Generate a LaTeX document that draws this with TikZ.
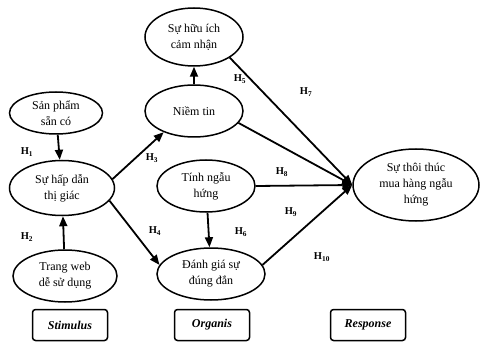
\documentclass[tikz,border=0pt]{standalone}
\usepackage{fontspec}
\setmainfont{Liberation Serif}
\usetikzlibrary{shapes.geometric, arrows.meta, positioning}
\tikzset{
    construct/.style={
        ellipse, draw=black, line width=1.5pt,
        inner sep=0pt, align=center,
        font=\fontsize{12}{16}\selectfont
    },
    stage/.style={
        rectangle, rounded corners=3pt, draw=black, line width=1.5pt,
        minimum width=75pt, minimum height=31pt,
        font=\fontsize{12}{13}\selectfont\bfseries\itshape
    },
    path/.style={draw=black, line width=1.8pt, -{Triangle[length=10pt,width=8pt]}},
    hyp/.style={font=\fontsize{10.5}{11}\selectfont\bfseries, inner sep=1pt}
}

\begin{document}
\begin{tikzpicture}[x=1pt, y=-1pt]
\useasboundingbox (0,0) rectangle (482,342);

% Stimulus
\node[construct, minimum width=93pt, minimum height=42pt] (sp) at (56,113) {Sản phẩm\\sẵn có};
\node[construct, minimum width=105pt, minimum height=55pt] (hd) at (62,188) {Sự hấp dẫn\\thị giác};
\node[construct, minimum width=104pt, minimum height=52pt] (tw) at (65,276) {Trang web\\dễ sử dụng};

% Organis
\node[construct, minimum width=98pt, minimum height=58pt] (hi) at (194,37) {Sự hữu ích\\cảm nhận};
\node[construct, minimum width=98pt, minimum height=52pt] (nt) at (194,111) {Niềm tin};
\node[construct, minimum width=98pt, minimum height=52pt] (tn) at (206,186) {Tính ngẫu\\hứng};
\node[construct, minimum width=108pt, minimum height=52pt] (dg) at (211,274) {Đánh giá sự\\đúng đắn};

% Response
\node[construct, minimum width=126pt, minimum height=72pt] (tt) at (416,185) {Sự thôi thúc\\mua hàng ngẫu\\hứng};

% Stage boxes
\node[stage] (stim) at (70,325) {Stimulus};
\node[stage] (org) at (212,325) {Organis};
\node[stage] (resp) at (368,325) {Response};

% Paths
\draw[path] (sp) -- (hd);
\draw[path] (tw) -- (hd);
\draw[path] (hd.10) -- (nt.215);
\draw[path] (hd.-15) -- (dg.170);
\draw[path] (nt) -- (hi);
\draw[path] (tn) -- (dg);
\draw[path] (hi.-30) -- (tt.west);
\draw[path] (nt.-15) -- (tt.west);
\draw[path] (tn.east) -- (tt.west);
\draw[path] (dg.10) -- (tt.west);

% Hypothesis labels
\node[hyp] (h1) at (27,152) {H\textsubscript{1}};
\node[hyp] (h2) at (27,237) {H\textsubscript{2}};
\node[hyp] (h3) at (152,158) {H\textsubscript{3}};
\node[hyp] (h4) at (155,231) {H\textsubscript{4}};
\node[hyp] (h5) at (240,79) {H\textsubscript{5}};
\node[hyp] (h6) at (241,232) {H\textsubscript{6}};
\node[hyp] (h7) at (306,92) {H\textsubscript{7}};
\node[hyp] (h8) at (282,172) {H\textsubscript{8}};
\node[hyp] (h9) at (291,212) {H\textsubscript{9}};
\node[hyp] (h10) at (322,257) {H\textsubscript{10}};

\end{tikzpicture}
\end{document}
